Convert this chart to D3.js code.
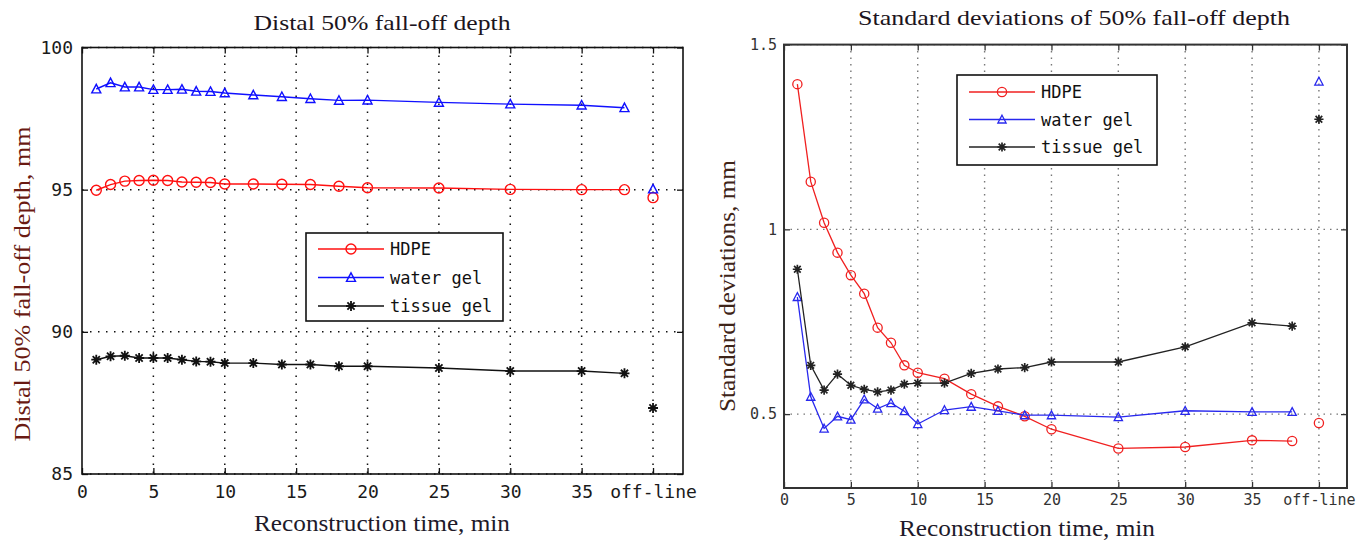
<!DOCTYPE html>
<html>
<head>
<meta charset="utf-8">
<script src="https://cdn.jsdelivr.net/npm/d3@7"></script>
<style>
  html, body { margin: 0; padding: 0; background: #fff; }
  svg { display: block; }
</style>
</head>
<body>
<svg id="chart" width="1370" height="546"></svg>
<script>
// ---------- data ----------
const times = [1, 2, 3, 4, 5, 6, 7, 8, 9, 10, 12, 14, 16, 18, 20, 25, 30, 35, 38];
const offlineX = 40;
const xTickValues = [0, 5, 10, 15, 20, 25, 30, 35, 40];
const xTickLabels = ["0", "5", "10", "15", "20", "25", "30", "35", "off-line"];
const seriesNames = ["HDPE", "water gel", "tissue gel"];

// Left: distal 50% fall-off depth (mm)
const hdpeDepth   = [94.98, 95.18, 95.30, 95.32, 95.33, 95.32, 95.27, 95.26, 95.25, 95.20, 95.20, 95.19, 95.18, 95.12, 95.07, 95.06, 95.01, 95.00, 95.00];
const waterDepth  = [98.54, 98.76, 98.61, 98.61, 98.52, 98.52, 98.53, 98.46, 98.45, 98.40, 98.33, 98.27, 98.20, 98.14, 98.15, 98.07, 98.01, 97.97, 97.88];
const tissueDepth = [89.02, 89.14, 89.16, 89.08, 89.08, 89.08, 89.02, 88.96, 88.95, 88.90, 88.90, 88.85, 88.85, 88.79, 88.79, 88.73, 88.62, 88.62, 88.54];
const offlineDepth = [94.72, 95.02, 87.32]; // HDPE, water gel, tissue gel
const depthTicks = [85, 90, 95, 100];

// Right: standard deviations of 50% fall-off depth (mm)
const hdpeSD   = [1.393, 1.129, 1.018, 0.937, 0.876, 0.826, 0.734, 0.693, 0.632, 0.612, 0.596, 0.554, 0.521, 0.494, 0.459, 0.407, 0.411, 0.429, 0.427];
const waterSD  = [0.817, 0.547, 0.461, 0.494, 0.485, 0.540, 0.515, 0.530, 0.508, 0.473, 0.511, 0.520, 0.509, 0.497, 0.497, 0.492, 0.509, 0.506, 0.506];
const tissueSD = [0.892, 0.632, 0.565, 0.608, 0.578, 0.567, 0.560, 0.565, 0.581, 0.584, 0.584, 0.610, 0.622, 0.626, 0.641, 0.641, 0.682, 0.747, 0.738];
const offlineSD = [0.476, 1.40, 1.298];
const sdTicks = [0.5, 1, 1.5];
const sdTickLabels = ["0.5", "1", "1.5"];

// ---------- drawing ----------
const svg = d3.select("#chart");
svg.append("rect").attr("width", 1370).attr("height", 546).attr("fill", "#fff");

const markerKinds = ["circle", "triangle", "star"];

function drawMarker(g, kind, x, y, color, size, sw) {
  if (kind === "circle") {
    g.append("circle").attr("cx", x).attr("cy", y).attr("r", size)
      .attr("fill", "none").attr("stroke", color).attr("stroke-width", sw);
  } else if (kind === "triangle") {
    const h = size * 1.7, w = size * 1.8;
    g.append("path")
      .attr("d", `M${x},${y - h * 0.55}L${x + w / 2},${y + h * 0.45}L${x - w / 2},${y + h * 0.45}Z`)
      .attr("fill", "none").attr("stroke", color).attr("stroke-width", sw);
  } else {
    const r = size, d = size * 0.72;
    g.append("path")
      .attr("d", `M${x},${y - r}V${y + r}M${x - r},${y}H${x + r}M${x - d},${y - d}L${x + d},${y + d}M${x - d},${y + d}L${x + d},${y - d}`)
      .attr("fill", "none").attr("stroke", color).attr("stroke-width", sw * 1.3);
  }
}

function panel(cfg) {
  const g = svg.append("g");
  const x = d3.scaleLinear().domain([0, 42.1]).range([cfg.left, cfg.right]);
  const y = d3.scaleLinear().domain(cfg.yDomain).range([cfg.bottom, cfg.top]);

  // grid
  const grid = g.append("g");
  xTickValues.filter(v => v > 0).forEach(v => {
    grid.append("line").attr("x1", x(v)).attr("x2", x(v)).attr("y1", cfg.top).attr("y2", cfg.bottom)
      .attr("stroke", cfg.gridColor).attr("stroke-width", cfg.gridWidth).attr("stroke-dasharray", cfg.gridDash);
  });
  cfg.yTicks.forEach(v => {
    grid.append("line").attr("x1", cfg.left).attr("x2", cfg.right).attr("y1", y(v)).attr("y2", y(v))
      .attr("stroke", cfg.gridColor).attr("stroke-width", cfg.gridWidth).attr("stroke-dasharray", cfg.gridDash);
  });

  // axes with inward ticks on all four sides
  const axB = d3.axisBottom(x).tickValues(xTickValues).tickSize(-6).tickFormat((d, i) => xTickLabels[i]).tickSizeOuter(0);
  const axT = d3.axisTop(x).tickValues(xTickValues).tickSize(-6).tickFormat("").tickSizeOuter(0);
  const axL = d3.axisLeft(y).tickValues(cfg.yTicks).tickSize(-6).tickFormat((d, i) => cfg.yTickLabels[i]).tickSizeOuter(0);
  const axR = d3.axisRight(y).tickValues(cfg.yTicks).tickSize(-6).tickFormat("").tickSizeOuter(0);

  const styleAxis = (sel, fs) => {
    sel.selectAll("path.domain").remove();
    sel.selectAll("line").attr("stroke", cfg.axisColor).attr("stroke-width", 1.3);
    sel.selectAll("text").attr("font-family", "'DejaVu Sans Mono', monospace")
      .attr("font-size", fs).attr("fill", cfg.tickColor);
  };
  g.append("g").attr("transform", `translate(0,${cfg.bottom})`).call(axB)
    .call(s => styleAxis(s, cfg.tickFont)).selectAll("text").attr("dy", null).attr("y", cfg.xLabelDy);
  g.append("g").attr("transform", `translate(0,${cfg.top})`).call(axT).call(s => styleAxis(s, cfg.tickFont));
  g.append("g").attr("transform", `translate(${cfg.left},0)`).call(axL)
    .call(s => styleAxis(s, cfg.tickFont)).selectAll("text").attr("x", -cfg.yLabelGap);
  g.append("g").attr("transform", `translate(${cfg.right},0)`).call(axR).call(s => styleAxis(s, cfg.tickFont));

  // frame
  g.append("rect").attr("x", cfg.left).attr("y", cfg.top)
    .attr("width", cfg.right - cfg.left).attr("height", cfg.bottom - cfg.top)
    .attr("fill", "none").attr("stroke", cfg.axisColor).attr("stroke-width", cfg.frameWidth);

  // series
  const line = d3.line().x(d => x(d[0])).y(d => y(d[1]));
  cfg.series.forEach((vals, si) => {
    const pts = times.map((t, i) => [t, vals[i]]);
    g.append("path").attr("d", line(pts)).attr("fill", "none")
      .attr("stroke", cfg.colors[si]).attr("stroke-width", cfg.lineWidth);
    pts.forEach(p => drawMarker(g, markerKinds[si], x(p[0]), y(p[1]), cfg.colors[si], cfg.markerSize, cfg.lineWidth));
    drawMarker(g, markerKinds[si], x(offlineX), y(cfg.offline[si]), cfg.colors[si], cfg.markerSize, cfg.lineWidth);
  });

  // legend
  const L = cfg.legend;
  const lg = g.append("g");
  lg.append("rect").attr("x", L.x).attr("y", L.y).attr("width", L.w).attr("height", L.h)
    .attr("fill", "#fff").attr("stroke", "#111").attr("stroke-width", 1.6);
  seriesNames.forEach((name, i) => {
    const yy = L.y + L.row0 + i * L.rowStep;
    lg.append("line").attr("x1", L.x + 12).attr("x2", L.x + 78).attr("y1", yy).attr("y2", yy)
      .attr("stroke", cfg.colors[i]).attr("stroke-width", cfg.lineWidth);
    drawMarker(lg, markerKinds[i], L.x + 45, yy, cfg.colors[i], cfg.markerSize, cfg.lineWidth);
    lg.append("text").attr("x", L.x + 84).attr("y", yy).attr("dy", "0.36em")
      .attr("font-family", "'DejaVu Sans Mono', monospace").attr("font-size", 17)
      .attr("fill", "#111").text(name);
  });

  // titles
  g.append("text").attr("x", cfg.titleX).attr("y", cfg.titleY).attr("text-anchor", "middle")
    .attr("font-family", "'Liberation Serif', 'Times New Roman', serif").attr("font-size", 22)
    .attr("fill", "#1c1420").attr("textLength", cfg.titleLen).attr("lengthAdjust", "spacingAndGlyphs")
    .text(cfg.title);
  g.append("text").attr("x", cfg.xTitleX).attr("y", cfg.xTitleY).attr("text-anchor", "middle")
    .attr("font-family", "'Liberation Serif', 'Times New Roman', serif").attr("font-size", 24)
    .attr("fill", cfg.xTitleColor).attr("textLength", 256).attr("lengthAdjust", "spacingAndGlyphs")
    .text("Reconstruction time, min");
  g.append("text").attr("transform", `translate(${cfg.yTitleX},${cfg.yTitleY}) rotate(-90)`)
    .attr("text-anchor", "middle")
    .attr("font-family", "'Liberation Serif', 'Times New Roman', serif").attr("font-size", 24)
    .attr("fill", cfg.yTitleColor).attr("textLength", cfg.yTitleLen).attr("lengthAdjust", "spacingAndGlyphs")
    .text(cfg.yTitle);
}

panel({
  left: 82, right: 683, top: 47.5, bottom: 474,
  yDomain: [85, 100], yTicks: depthTicks, yTickLabels: depthTicks.map(String),
  series: [hdpeDepth, waterDepth, tissueDepth], offline: offlineDepth,
  colors: ["#ff1010", "#1010ff", "#111111"],
  gridColor: "#111", gridWidth: 1.5, gridDash: "1.5,6.5",
  axisColor: "#111", tickColor: "#1a1a1a", frameWidth: 1.6, tickFont: 18,
  xLabelDy: 24, yLabelGap: 9, lineWidth: 1.4, markerSize: 5,
  legend: { x: 306, y: 233, w: 197, h: 88, row0: 16, rowStep: 28.5 },
  title: "Distal 50% fall-off depth", titleX: 382, titleY: 30, titleLen: 257,
  xTitleX: 382, xTitleY: 531, xTitleColor: "#1e1a2a",
  yTitle: "Distal 50% fall-off depth, mm", yTitleX: 30, yTitleY: 284, yTitleLen: 315, yTitleColor: "#6a1a12"
});

panel({
  left: 784, right: 1347, top: 44.6, bottom: 488,
  yDomain: [0.3, 1.5], yTicks: sdTicks, yTickLabels: sdTickLabels,
  series: [hdpeSD, waterSD, tissueSD], offline: offlineSD,
  colors: ["#f02020", "#2828ee", "#222222"],
  gridColor: "#777", gridWidth: 1.4, gridDash: "1.5,5",
  axisColor: "#333", tickColor: "#333", frameWidth: 2, tickFont: 15,
  xLabelDy: 17, yLabelGap: 7, lineWidth: 1.3, markerSize: 4.6,
  legend: { x: 957, y: 75, w: 200, h: 90, row0: 17, rowStep: 27.5 },
  title: "Standard deviations of 50% fall-off depth", titleX: 1074, titleY: 25, titleLen: 432,
  xTitleX: 1027, xTitleY: 536, xTitleColor: "#1e1a2a",
  yTitle: "Standard deviations, mm", yTitleX: 735, yTitleY: 286, yTitleLen: 252, yTitleColor: "#3e2418"
});
</script>
</body>
</html>
